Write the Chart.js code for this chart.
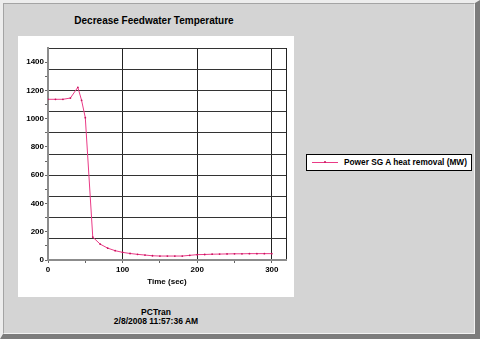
<!DOCTYPE html>
<html>
<head>
<meta charset="utf-8">
<script src="https://cdn.jsdelivr.net/npm/chart.js@4/dist/chart.umd.min.js"></script>
<style>
  html, body { margin: 0; padding: 0; }
  body { width: 480px; height: 339px; position: relative; overflow: hidden; font-family: "Liberation Sans", Arial, sans-serif; font-weight: bold; color: #000; }
  #frame { position: absolute; left: 0; top: 0; width: 480px; height: 339px; box-sizing: border-box; background: #d4d4d4;
           border-top: 3px solid #ededed; border-left: 3px solid #ededed; border-right: 5px solid #7c7c7c; border-bottom: 5px solid #7c7c7c; }
  #inner { position: absolute; left: 0; top: 0; right: 0; bottom: 0; border-top: 1px solid #a4a4a4; border-left: 1px solid #a4a4a4;
           border-right: 1px solid #f2f2f2; border-bottom: 1px solid #f2f2f2; }
  #panel { position: absolute; left: 18px; top: 36px; width: 276px; height: 261px; background: #fff; }
  #chart { position: absolute; left: 18px; top: 36px; }
  #title { position: absolute; left: 16px; top: 15px; width: 276px; text-align: center; font-size: 10px; line-height: 12px; }
  #footer { position: absolute; left: 18px; top: 308px; width: 276px; text-align: center; font-size: 8.5px; line-height: 9px; }
  #legend { position: absolute; left: 306px; top: 154px; width: 164px; height: 15px; border: 1px solid #000; background: #fff; font-size: 8.3px; line-height: 15px; }
  #legend .sample { position: absolute; left: 5px; top: 7px; width: 26px; height: 0; border-top: 1px solid; }
  #legend .dot { position: absolute; left: 12px; top: -2px; width: 2px; height: 2px; border-radius: 50%; }
  #legend .text { position: absolute; left: 37px; top: 0; white-space: nowrap; }
</style>
</head>
<body>
<div id="frame"><div id="inner"></div></div>
<div id="panel"></div>
<div id="title">Decrease Feedwater Temperature</div>
<canvas id="chart" width="276" height="261"></canvas>
<div id="legend"></div>
<div id="footer">PCTran<br>2/8/2008 11:57:36 AM</div>

<script>
// time axis (sec) and SG A heat removal (MW)
var times = [0, 10, 20, 30, 40, 45, 50, 60, 70, 80, 90, 100, 110, 120, 130, 140, 150, 160, 170, 180,
             190, 200, 210, 220, 230, 240, 250, 260, 270, 280, 290, 300];
var heatRemoval = [1137, 1137, 1137, 1146, 1222, 1130, 1007, 162, 112, 84, 66, 54, 46, 40, 35, 30, 28, 28, 28, 28,
                   33, 38, 39, 41, 42, 43, 44, 44, 45, 45, 45, 45];
var seriesLabel = 'Power SG A heat removal (MW)';

var xTicks = [0, 50, 100, 150, 200, 250, 300];
var xMax = 319;
var yLabelTicks = [0, 100, 200, 300, 400, 500, 600, 700, 800, 900, 1000, 1100, 1200, 1300, 1400];
var yGridLines = [0, 150, 300, 450, 600, 750, 900, 1050, 1200, 1350, 1500];
var yMax = 1500;

var lineColor = '#ea3a86';

function organise(xs, ys) {
    var pts = [];
    for (var i = 0; i < xs.length; i++) {
        pts.push({ x: xs[i], y: ys[i] });
    }
    return pts;
}

// y axis carries both the labelled ticks and the 150-step grid
var yAll = yLabelTicks.concat(yGridLines).filter(function (v, i, a) { return a.indexOf(v) === i; })
                      .sort(function (a, b) { return a - b; });

var ctx = document.getElementById('chart').getContext('2d');
var chart = new Chart(ctx, {
    type: 'line',
    data: {
        datasets: [{
            label: seriesLabel,
            data: organise(times, heatRemoval),
            borderColor: lineColor,
            backgroundColor: lineColor,
            borderWidth: 1,
            pointRadius: 0.9,
            pointBackgroundColor: '#c8145f',
            pointBorderWidth: 0,
            tension: 0
        }]
    },
    options: {
        responsive: false,
        animation: false,
        devicePixelRatio: 1,
        layout: { padding: { left: 0, top: 12, right: 8, bottom: 0 } },
        plugins: {
            legend: { display: false },
            title: { display: false },
            tooltip: { enabled: false }
        },
        scales: {
            x: {
                type: 'linear',
                min: 0,
                max: xMax,
                afterBuildTicks: function (axis) {
                    axis.ticks = xTicks.concat([xMax]).map(function (v) { return { value: v }; });
                },
                afterFit: function (axis) { axis.height = 37; },
                ticks: {
                    autoSkip: false,
                    maxRotation: 0,
                    padding: 2,
                    color: '#000',
                    font: { family: 'Liberation Sans', size: 8, weight: 'bold' },
                    callback: function (v) { return (v % 100 === 0 && v <= 300) ? v : ''; }
                },
                grid: {
                    lineWidth: 1,
                    tickLength: 3,
                    color: function (c) {
                        var v = c.tick ? c.tick.value : 0;
                        if (v === 0) return 'rgba(0,0,0,0)';
                        return (v % 100 === 0 || v === xMax) ? '#222' : 'rgba(0,0,0,0)';
                    },
                    tickColor: function (c) {
                        var v = c.tick ? c.tick.value : 0;
                        return v === xMax ? 'rgba(0,0,0,0)' : '#666';
                    }
                },
                border: { color: '#8c8c8c', width: 2 },
                title: {
                    display: true,
                    text: 'Time (sec)',
                    color: '#000',
                    font: { family: 'Liberation Sans', size: 8, weight: 'bold' },
                    padding: { top: 0, bottom: 10 }
                }
            },
            y: {
                min: 0,
                max: yMax,
                afterBuildTicks: function (axis) {
                    axis.ticks = yAll.map(function (v) { return { value: v }; });
                },
                afterFit: function (axis) { axis.width = 30; },
                ticks: {
                    autoSkip: false,
                    padding: 1,
                    color: '#000',
                    font: { family: 'Liberation Sans', size: 8, weight: 'bold' },
                    callback: function (v) { return (v % 200 === 0 && v <= 1400) ? v : ''; }
                },
                grid: {
                    lineWidth: 1,
                    tickLength: 3,
                    color: function (c) {
                        var v = c.tick ? c.tick.value : 0;
                        if (v === 0) return 'rgba(0,0,0,0)';
                        return v % 150 === 0 ? '#333' : 'rgba(0,0,0,0)';
                    },
                    tickColor: function (c) {
                        var v = c.tick ? c.tick.value : 0;
                        return (v % 100 === 0 && v <= 1400) ? '#666' : 'rgba(0,0,0,0)';
                    }
                },
                border: { color: '#8c8c8c', width: 2 }
            }
        }
    }
});

// legend box beside the panel
function buildLegend(ch) {
    var ds = ch.data.datasets[0];
    var box = document.getElementById('legend');
    box.innerHTML = '<span class="sample" style="border-color:' + ds.borderColor + '">' +
        '<span class="dot" style="background:' + ds.pointBackgroundColor + '"></span></span>' +
        '<span class="text">' + ds.label + '</span>';
}
buildLegend(chart);
</script>
</body>
</html>
